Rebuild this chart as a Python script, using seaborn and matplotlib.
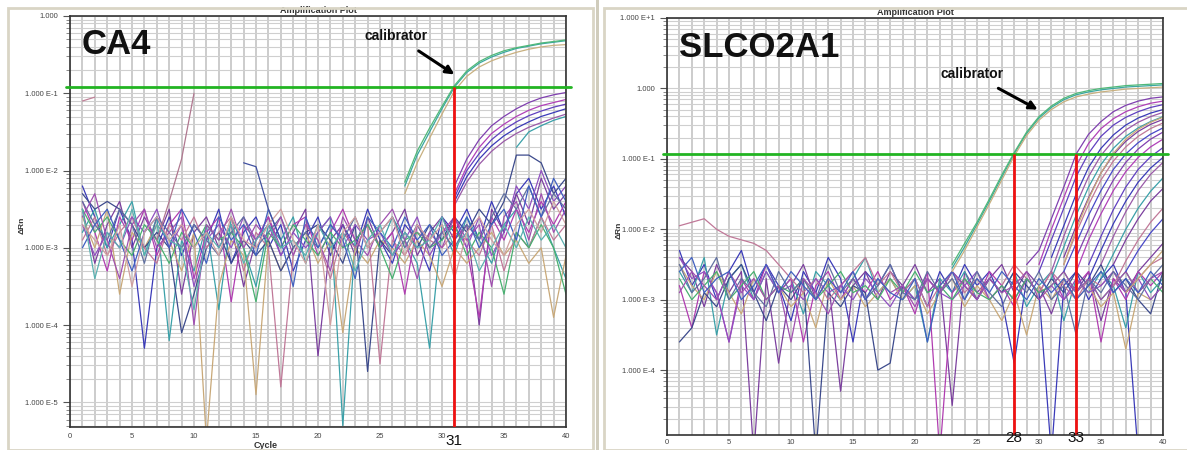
import numpy as np
import pandas as pd
import matplotlib
matplotlib.use("Agg")
import matplotlib.pyplot as plt
from matplotlib.patches import Rectangle
from matplotlib.ticker import LogLocator, FuncFormatter, MultipleLocator
import seaborn as sns

# ---- data: log10(delta Rn) ----
cycles_all = list(range(1, 41))

ca4_noise = [
    [-2.2,-2.6,-3.0,-2.5,-2.9,-4.3,-3.0,-2.6,-3.1,-2.7,-2.9,-2.5,-3.2,-2.8,-2.6,-3.0,-2.7,-3.3,-2.9,-2.6,-3.1,-2.7,-3.0,-2.5,-2.9,-3.2,-2.7,-2.9,-3.3,-2.6,-2.8,-2.5,-2.9,-2.4,-2.8,-2.3,-2.1,-2.5,-2.2,-2.6],
    [-2.5,-3.2,-2.7,-2.4,-3.0,-2.6,-2.9,-2.5,-3.6,-2.8,-2.6,-3.0,-2.7,-3.5,-2.9,-2.6,-3.1,-2.8,-2.5,-4.4,-2.9,-2.7,-3.1,-2.6,-3.0,-2.8,-2.5,-3.1,-2.8,-2.6,-2.9,-2.7,-4.0,-2.5,-2.8,-2.3,-2.7,-2.1,-2.5,-2.3],
    [-2.8,-2.5,-3.0,-2.7,-2.4,-3.1,-2.6,-4.2,-2.9,-3.3,-2.7,-3.8,-2.6,-3.0,-3.5,-2.7,-2.9,-2.6,-3.2,-2.8,-2.6,-5.3,-2.9,-2.7,-3.0,-2.6,-2.9,-3.2,-4.3,-2.7,-3.1,-2.6,-2.9,-3.2,-2.7,-2.5,-3.0,-2.6,-3.0,-3.4],
    [-2.4,-2.8,-3.3,-2.6,-2.9,-2.5,-3.1,-2.7,-2.5,-3.4,-2.8,-2.6,-3.7,-2.7,-2.9,-2.6,-3.0,-2.7,-2.6,-3.1,-2.8,-2.5,-2.9,-2.7,-3.0,-2.8,-3.6,-2.7,-3.0,-2.8,-2.6,-3.0,-3.9,-2.6,-2.9,-2.5,-2.8,-2.4,-2.7,-2.4],
    [-2.6,-3.0,-2.5,-3.6,-2.8,-3.0,-2.7,-2.9,-3.3,-2.8,-5.5,-3.5,-2.9,-3.1,-4.9,-2.9,-3.3,-3.0,-2.8,-3.2,-2.9,-4.1,-3.0,-3.2,-2.9,-3.0,-3.2,-2.9,-3.1,-3.5,-3.0,-3.2,-3.0,-2.8,-3.1,-2.9,-3.2,-3.0,-3.9,-3.1],
    [-2.3,-2.5,-2.4,-2.5,-2.7,-3.0,-2.8,-3.0,-4.1,-3.6,-3.0,-2.8,-3.2,-2.9,-3.1,-2.9,-3.3,-3.0,-2.8,-2.7,-2.9,-3.2,-2.7,-4.6,-2.9,-3.1,-2.8,-3.0,-2.7,-2.9,-2.6,-2.8,-2.5,-2.7,-2.4,-1.8,-1.8,-1.9,-2.3,-2.1],
    [-2.9,-2.6,-3.1,-2.8,-2.6,-3.0,-3.2,-2.7,-2.9,-2.6,-3.0,-2.8,-2.6,-3.3,-2.8,-3.0,-4.8,-3.1,-2.7,-2.9,-3.4,-2.8,-3.0,-2.7,-4.5,-2.9,-3.1,-2.8,-2.9,-3.0,-2.8,-2.9,-3.1,-2.7,-3.3,-2.8,-3.0,-2.6,-2.9,-2.7],
    [-2.7,-3.1,-2.8,-3.0,-2.6,-2.8,-2.5,-3.0,-2.7,-3.5,-2.9,-2.7,-3.0,-2.6,-2.9,-2.7,-3.1,-2.8,-3.0,-2.8,-2.6,-3.0,-2.7,-2.9,-2.8,-3.1,-2.9,-2.6,-3.1,-2.8,-2.7,-3.0,-2.6,-3.1,-2.8,-2.2,-2.5,-2.0,-2.4,-2.2],
    [-2.5,-2.8,-2.6,-2.9,-3.1,-2.7,-2.9,-3.2,-2.8,-3.0,-2.7,-2.9,-2.8,-3.0,-3.7,-2.8,-3.0,-2.7,-2.9,-3.1,-2.8,-3.0,-2.9,-2.7,-3.0,-3.4,-2.9,-2.8,-3.0,-2.9,-2.7,-3.1,-2.8,-3.0,-3.6,-2.8,-3.0,-2.7,-3.0,-3.6],
    [-2.4,-2.7,-2.9,-2.5,-2.7,-3.2,-2.6,-2.8,-3.0,-2.7,-2.9,-3.1,-2.8,-2.6,-3.0,-2.8,-2.6,-3.0,-2.8,-3.0,-2.7,-2.9,-2.6,-3.0,-2.8,-2.6,-3.0,-2.7,-3.0,-2.8,-3.0,-2.7,-2.9,-2.6,-2.3,-2.5,-2.2,-2.6,-2.3,-2.5],
    [-2.6,-2.3,-2.9,-3.4,-2.7,-2.5,-3.0,-2.8,-2.6,-4.0,-2.7,-2.9,-2.5,-3.0,-2.7,-2.9,-2.6,-3.1,-2.7,-2.9,-3.3,-2.6,-2.9,-3.1,-2.7,-2.5,-2.9,-3.4,-2.8,-3.0,-2.6,-2.9,-2.7,-3.5,-2.6,-2.4,-2.9,-2.3,-2.8,-2.5],
    [-3.0,-2.7,-2.5,-2.9,-3.3,-2.8,-2.6,-3.0,-2.5,-2.8,-3.2,-2.6,-2.9,-2.7,-3.1,-2.5,-2.9,-3.5,-2.6,-3.0,-2.7,-2.9,-3.4,-2.6,-2.8,-3.0,-2.6,-2.9,-2.7,-3.1,-2.9,-2.6,-3.0,-2.7,-2.5,-2.9,-2.2,-2.6,-2.1,-2.4],
    [-2.5,-3.4,-2.8,-3.0,-2.5,-3.1,-2.7,-2.9,-3.0,-3.8,-2.8,-3.0,-2.7,-3.2,-2.9,-2.7,-3.0,-2.9,-3.1,-2.7,-3.0,-2.8,-3.3,-2.9,-2.7,-3.1,-2.8,-3.0,-2.9,-2.6,-3.0,-2.8,-3.3,-3.0,-2.7,-3.0,-2.6,-2.9,-2.7,-3.0],
    [-2.7,-2.9,-3.1,-2.7,-3.5,-2.8,-2.6,-2.9,-2.7,-3.0,-2.8,-3.1,-2.6,-2.9,-3.0,-2.7,-2.5,-2.9,-3.2,-2.7,-4.0,-2.8,-2.6,-3.0,-2.8,-2.6,-3.1,-2.7,-2.9,-2.7,-3.4,-2.8,-2.6,-2.9,-3.1,-2.7,-2.5,-2.8,-2.4,-2.7],
]
ca4_extra_start = [1, 7, 14]
ca4_extra = [[-1.1, -1.05], [-2.9, -2.4, -1.85, -1.0], [-1.9, -1.95, -2.5, -2.9]]
ca4_extra_colors = ["#c08098", "#b07890", "#4050a0"]

ca4_calib_start = 27
ca4_calib = [
    [-2.2,-1.8,-1.5,-1.2,-0.92,-0.73,-0.61,-0.53,-0.47,-0.42,-0.39,-0.36,-0.34,-0.32],
    [-2.15,-1.75,-1.45,-1.17,-0.9,-0.71,-0.59,-0.51,-0.45,-0.41,-0.38,-0.35,-0.33,-0.31],
    [-2.3,-1.9,-1.58,-1.27,-0.97,-0.78,-0.66,-0.58,-0.52,-0.47,-0.43,-0.4,-0.38,-0.37],
]
ca4_sample_start = [31, 31, 31, 31, 31, 36]
ca4_sample = [
    [-2.2,-1.85,-1.6,-1.42,-1.3,-1.2,-1.12,-1.06,-1.02,-0.99],
    [-2.3,-1.95,-1.7,-1.52,-1.4,-1.3,-1.22,-1.16,-1.12,-1.08],
    [-2.35,-2.0,-1.78,-1.6,-1.47,-1.37,-1.29,-1.23,-1.18,-1.14],
    [-2.4,-2.08,-1.85,-1.68,-1.55,-1.45,-1.37,-1.3,-1.25,-1.2],
    [-2.45,-2.15,-1.92,-1.75,-1.62,-1.52,-1.44,-1.38,-1.32,-1.27],
    [-1.7,-1.5,-1.42,-1.35,-1.3],
]

slco_noise = [
    [-2.3,-2.8,-2.5,-3.0,-2.6,-2.3,-2.9,-2.5,-2.8,-3.3,-2.6,-2.9,-2.4,-2.7,-3.6,-2.6,-2.8,-2.5,-2.9,-2.7,-3.1,-2.6,-2.9,-2.5,-2.8,-2.6,-3.0,-3.9,-2.7,-2.9,-5.2,-2.8,-2.6,-3.0,-2.7,-2.5,-2.9,-5.2],
    [-2.4,-2.6,-3.1,-2.5,-2.9,-2.6,-5.2,-2.7,-3.9,-2.8,-2.5,-3.0,-2.7,-4.3,-2.8,-2.6,-3.0,-2.6,-2.8,-2.5,-2.9,-2.7,-4.5,-2.6,-2.9,-2.7,-2.5,-2.9,-2.6,-2.8,-3.2,-2.7,-2.9,-2.6,-3.3,-2.7,-2.9,-2.6,-2.4,-2.2],
    [-2.6,-2.9,-2.4,-3.5,-2.7,-2.5,-3.0,-2.6,-2.9,-2.7,-3.2,-2.6,-2.8,-3.0,-2.7,-2.4,-2.9,-2.7,-3.0,-2.8,-3.6,-2.7,-2.9,-2.6,-3.0,-2.7,-2.9,-2.6,-3.1,-2.8,-2.6,-3.3,-2.7,-2.9,-2.6,-2.8,-3.4,-2.6,-2.9,-2.7],
    [-2.8,-3.4,-2.6,-2.9,-3.6,-2.7,-3.0,-2.5,-2.9,-2.7,-3.6,-2.8,-2.6,-3.0,-2.7,-2.9,-2.6,-3.0,-2.8,-3.2,-2.6,-5.2,-2.9,-2.7,-3.0,-2.6,-2.8,-3.1,-2.7,-2.9,-2.6,-3.0,-2.8,-2.6,-3.6,-2.7,-3.0,-2.6,-2.8,-2.6],
    [-2.5,-2.8,-3.0,-2.6,-2.9,-3.2,-2.7,-3.0,-2.8,-3.1,-2.9,-3.4,-2.7,-3.0,-2.8,-3.1,-2.9,-2.7,-3.0,-2.8,-3.2,-2.9,-2.7,-3.1,-2.8,-3.0,-3.3,-2.9,-3.5,-2.8,-3.0,-2.7,-3.0,-2.8,-3.1,-2.9,-3.7,-2.9,-3.0,-2.8],
    [-3.6,-3.4,-2.9,-3.1,-2.7,-2.5,-2.9,-3.3,-2.8,-3.0,-2.7,-5.2,-2.9,-3.1,-2.8,-2.9,-4.0,-3.9,-2.8,-3.0,-2.7,-2.9,-2.6,-2.8,-3.0,-2.7,-2.9,-2.6,-2.8,-3.0,-2.7,-2.9,-2.6,-2.8,-2.5,-2.9,-2.7,-3.0,-3.2,-2.6],
    [-1.95,-1.9,-1.85,-2.0,-2.1,-2.15,-2.2,-2.3,-2.5,-2.7,-2.9,-2.7,-3.0,-2.8,-2.6,-2.4,-2.8,-2.6,-2.9,-2.7,-3.1,-2.8,-2.6,-2.9,-2.7,-3.0,-2.8,-2.5,-2.7,-2.9,-2.6,-2.8,-3.0,-2.7,-2.8,-2.6,-2.9,-2.7,-2.5,-2.4],
    [-2.4,-2.7,-2.6,-2.9,-3.6,-2.8,-3.0,-2.6,-2.9,-2.8,-3.0,-2.7,-2.9,-2.8,-3.0,-2.7,-2.9,-3.1,-2.8,-3.0,-2.7,-2.9,-3.0,-2.8,-2.6,-3.0,-2.8,-3.0,-2.7,-2.9,-2.8,-3.0,-2.7,-2.9,-2.8,-2.6,-2.9,-2.7,-3.0,-2.8],
    [-2.7,-3.0,-2.8,-2.6,-3.0,-2.8,-2.6,-3.0,-2.8,-2.9,-2.7,-3.0,-2.8,-2.6,-2.9,-2.8,-3.0,-2.7,-2.9,-2.6,-2.9,-2.8,-3.0,-2.7,-2.9,-3.0,-2.8,-3.0,-2.7,-2.9,-2.8,-2.6,-2.9,-2.7,-3.0,-2.8,-2.6,-2.9,-2.7,-2.9],
    [-2.5,-2.9,-2.7,-2.4,-3.0,-2.7,-2.9,-3.1,-2.6,-2.9,-2.7,-3.0,-2.5,-2.9,-2.7,-3.0,-2.8,-2.5,-2.9,-3.0,-2.6,-2.9,-2.7,-3.0,-2.6,-2.9,-3.1,-2.7,-2.9,-2.6,-3.0,-2.8,-3.5,-2.7,-2.9,-2.6,-2.8,-3.0,-2.7,-2.5],
    [-2.9,-2.6,-2.8,-3.0,-2.6,-2.9,-2.7,-3.0,-2.8,-3.6,-2.7,-2.9,-3.2,-2.8,-2.6,-3.0,-2.7,-2.9,-2.8,-3.1,-2.7,-2.9,-2.6,-2.8,-3.0,-2.7,-2.9,-2.8,-2.6,-3.0,-2.8,-2.6,-2.9,-2.7,-3.0,-2.8,-2.6,-2.9,-2.7,-2.6],
    [-2.6,-2.4,-2.9,-2.7,-2.6,-3.0,-2.8,-2.5,-2.9,-2.6,-2.8,-3.0,-2.7,-2.9,-2.6,-3.0,-2.7,-2.9,-3.0,-2.7,-3.6,-2.8,-2.6,-3.0,-2.7,-2.9,-2.6,-2.8,-3.0,-2.7,-2.9,-2.7,-3.0,-2.8,-2.6,-2.9,-2.7,-2.9,-2.6,-2.8],
]

slco_calib_start = 23
slco_calib = [
    [-2.55,-2.25,-1.93,-1.6,-1.26,-0.93,-0.64,-0.42,-0.27,-0.16,-0.09,-0.05,-0.02,0.0,0.02,0.03,0.04,0.05],
    [-2.5,-2.2,-1.9,-1.57,-1.23,-0.91,-0.62,-0.4,-0.25,-0.14,-0.07,-0.03,0.0,0.02,0.04,0.05,0.06,0.07],
    [-2.6,-2.3,-1.97,-1.64,-1.3,-0.96,-0.67,-0.45,-0.3,-0.19,-0.12,-0.08,-0.05,-0.03,-0.01,0.0,0.01,0.02],
]
slco_sample_start = [29, 30, 30, 31, 31, 31, 32, 32, 32, 32, 33, 33, 34, 34, 35, 35, 36, 36, 37, 37]
slco_sample = [
    [-2.5,-2.3,-1.85,-1.4,-0.93,-0.65,-0.47,-0.33,-0.24,-0.18,-0.14,-0.12],
    [-2.5,-2.0,-1.55,-1.1,-0.78,-0.57,-0.43,-0.33,-0.26,-0.21,-0.18],
    [-2.6,-2.15,-1.7,-1.25,-0.92,-0.68,-0.52,-0.41,-0.33,-0.27,-0.23],
    [-2.4,-1.95,-1.5,-1.12,-0.85,-0.66,-0.52,-0.42,-0.35,-0.3],
    [-2.6,-2.1,-1.65,-1.25,-0.95,-0.74,-0.59,-0.48,-0.4,-0.34],
    [-2.7,-2.25,-1.8,-1.4,-1.08,-0.85,-0.68,-0.56,-0.47,-0.4],
    [-2.4,-1.95,-1.55,-1.2,-0.94,-0.75,-0.61,-0.51,-0.44],
    [-2.5,-2.05,-1.65,-1.3,-1.03,-0.83,-0.68,-0.57,-0.49],
    [-2.6,-2.2,-1.8,-1.45,-1.15,-0.93,-0.77,-0.65,-0.56],
    [-2.5,-2.0,-1.57,-1.2,-0.92,-0.72,-0.58,-0.48,-0.41],
    [-2.4,-2.0,-1.62,-1.3,-1.05,-0.86,-0.72,-0.62],
    [-2.6,-2.15,-1.78,-1.45,-1.18,-0.98,-0.83,-0.72],
    [-2.5,-2.1,-1.72,-1.4,-1.15,-0.97,-0.84],
    [-2.7,-2.3,-1.92,-1.6,-1.33,-1.13,-0.98],
    [-2.5,-2.1,-1.75,-1.45,-1.22,-1.05],
    [-2.7,-2.35,-2.0,-1.7,-1.46,-1.27],
    [-2.5,-2.15,-1.85,-1.6,-1.42],
    [-2.8,-2.45,-2.15,-1.9,-1.7],
    [-2.6,-2.3,-2.05,-1.85],
    [-2.9,-2.7,-2.5,-2.3],
]

thresholds = {"CA4": 0.12, "SLCO2A1": 0.118}
ct_marks = {"CA4": [31], "SLCO2A1": [28, 33]}
ct_offset_pt = {"CA4": -10, "SLCO2A1": -2}
calib_arrow = {"CA4": (31.0, 0.175, 26.3, 0.55), "SLCO2A1": (29.9, 0.5, 24.6, 1.6)}
y_limits = {"CA4": (4.8e-6, 1.0), "SLCO2A1": (1.2e-5, 10.0)}
xtick_pad = {"CA4": 4, "SLCO2A1": 3}

well_colors = ["#3a3ab8", "#7b3f9e", "#3aa0a8", "#b03cb0", "#c8a878",
               "#3c4a8c", "#c07898", "#9050c0", "#48b070", "#6070a0",
               "#a050b0", "#4060c0", "#5ab0b0", "#d0a0a0"]
calib_colors = ["#3aa8a0", "#50b878", "#c8b080"]
sample_colors = ["#8040b0", "#b040b8", "#6040c0", "#3a3ab8", "#9a5aa8",
                 "#3aa0a8", "#7b3f9e", "#c07898", "#4848c8", "#c8a878"]


def build_frame(noise, extra_start, extra, extra_colors, calib_start, calib,
                sample_start, sample):
    rows = []
    cols = {}
    k = 0
    for j, vals in enumerate(noise):
        for c, v in zip(cycles_all, vals):
            rows.append((f"w{k}", c, 10 ** v))
        cols[f"w{k}"] = well_colors[j % len(well_colors)]
        k += 1
    for j, (s, vals) in enumerate(zip(extra_start, extra)):
        for i, v in enumerate(vals):
            rows.append((f"w{k}", s + i, 10 ** v))
        cols[f"w{k}"] = extra_colors[j]
        k += 1
    for j, (s, vals) in enumerate(zip(sample_start, sample)):
        for i, v in enumerate(vals):
            rows.append((f"w{k}", s + i, 10 ** v))
        cols[f"w{k}"] = sample_colors[j % len(sample_colors)]
        k += 1
    for j, vals in enumerate(calib):
        for i, v in enumerate(vals):
            rows.append((f"w{k}", calib_start + i, 10 ** v))
        cols[f"w{k}"] = calib_colors[j]
        k += 1
    return pd.DataFrame(rows, columns=["well", "cycle", "rn"]), cols


panels = {
    "CA4": build_frame(ca4_noise, ca4_extra_start, ca4_extra, ca4_extra_colors,
                       ca4_calib_start, ca4_calib, ca4_sample_start, ca4_sample),
    "SLCO2A1": build_frame(slco_noise, [], [], [], slco_calib_start, slco_calib,
                           slco_sample_start, slco_sample),
}

sns.set_theme(style="white")
plt.rcParams["font.family"] = ["Liberation Sans", "DejaVu Sans"]

fig = plt.figure(figsize=(11.87, 4.5), dpi=100)
W, H = 1187, 450

# window frames of the two screenshots
fig.patches.append(Rectangle((8 / W, 0.5 / H), 585 / W, 441.5 / H, transform=fig.transFigure,
                             fill=False, edgecolor="#d9d5c5", lw=2))
fig.patches.append(Rectangle((604 / W, 0), 600 / W, 442 / H, transform=fig.transFigure,
                             fill=False, edgecolor="#d9d5c5", lw=2))
fig.patches.append(Rectangle((596 / W, 0), 3 / W, 1, transform=fig.transFigure,
                             fill=True, facecolor="#d0ccbc", edgecolor="none"))

ax_boxes = {"CA4": [70 / W, 1 - 427 / H, 496 / W, 411 / H],
            "SLCO2A1": [667 / W, 1 - 435 / H, 496 / W, 417 / H]}


def exp_fmt(v, pos):
    e = int(round(np.log10(v)))
    return "1.000" if e == 0 else f"1.000 E{e:+d}"


for name, (df, cols) in panels.items():
    ax = fig.add_axes(ax_boxes[name])
    ax.set_yscale("log")
    ax.set_xlim(0, 40)
    ax.set_ylim(*y_limits[name])
    ax.xaxis.set_major_locator(MultipleLocator(5))
    ax.xaxis.set_minor_locator(MultipleLocator(1))
    ax.yaxis.set_major_locator(LogLocator(base=10))
    ax.yaxis.set_minor_locator(LogLocator(base=10, subs=np.arange(2, 10)))
    ax.yaxis.set_major_formatter(FuncFormatter(exp_fmt))
    ax.grid(True, which="both", axis="x", color="#c8c8c8", lw=1.3)
    ax.grid(True, which="both", axis="y", color="#cfcfcf", lw=0.8)
    ax.set_axisbelow(True)
    ax.tick_params(axis="y", which="major", labelsize=5.5, labelcolor="#444444",
                   length=5, width=0.8, color="#555555", direction="out", left=True)
    ax.tick_params(axis="x", which="major", labelsize=5.5, labelcolor="#444444",
                   length=0, pad=xtick_pad[name], bottom=False)
    ax.tick_params(axis="y", which="minor", length=3, width=0.6, color="#777777", left=True)
    ax.tick_params(axis="x", which="minor", bottom=False, length=0)
    for sp in ax.spines.values():
        sp.set_color("#333333")
        sp.set_linewidth(1.2)

    sns.lineplot(data=df, x="cycle", y="rn", hue="well", palette=cols, legend=False,
                 estimator=None, sort=False, lw=0.9, ax=ax)
    ax.set_xlabel("")
    ax.set_ylabel("")

    thr = thresholds[name]
    ax.axhline(thr, xmin=-0.008, xmax=1.01, color="#22b422", lw=2, clip_on=False, zorder=5)
    for ct in ct_marks[name]:
        ax.vlines(ct, y_limits[name][0], thr, color="#ee1111", lw=2, zorder=6)
        ax.annotate(str(ct), xy=(ct, 0), xycoords=("data", "axes fraction"),
                    xytext=(0, ct_offset_pt[name]), textcoords="offset points",
                    ha="center", va="center", fontsize=11, color="#111111",
                    zorder=7, annotation_clip=False)

    tx, ty, lx, ly = calib_arrow[name]
    ax.annotate("calibrator", xy=(tx, ty), xytext=(lx, ly), ha="center", va="center",
                fontsize=10, fontweight="bold", color="#111111",
                arrowprops=dict(arrowstyle="-|>", color="black", lw=2.2,
                                mutation_scale=12, shrinkA=6, shrinkB=0))

    ax.text(0.024, 0.93, name, transform=ax.transAxes, fontsize=25, fontweight="bold",
            ha="left", va="center", color="#111111")
    ax.text(0.5, 1.003, "Amplification Plot", transform=ax.transAxes, fontsize=6.5,
            fontweight="bold", ha="center", va="bottom", color="#333333")
    ax.text(-0.097, 0.49, "\u0394Rn", transform=ax.transAxes, fontsize=6, fontweight="bold",
            rotation=90, ha="center", va="center", color="#333333")
    if name == "CA4":
        ax.text(0.395, -0.045, "Cycle", transform=ax.transAxes, fontsize=6.5,
                fontweight="bold", ha="center", va="center", color="#333333")

fig.savefig("out.png", dpi=100)
